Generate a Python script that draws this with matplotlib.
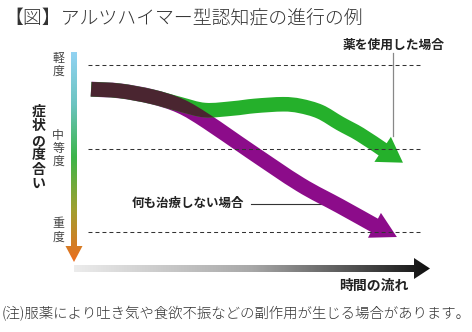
import numpy as np
import matplotlib.pyplot as plt
from matplotlib.patches import Polygon, PathPatch
from matplotlib.path import Path
from matplotlib.colors import LinearSegmentedColormap

plt.rcParams['font.family'] = ['Noto Sans CJK JP', 'DejaVu Sans']

# ---- 図のテキスト ----
title = '【図】アルツハイマー型認知症の進行の例'
y_label = '症状の度合い'
x_label = '時間の流れ'
note = '(注)服薬により吐き気や食欲不振などの副作用が生じる場合があります。'
drug_label = '薬を使用した場合'
none_label = '何も治療しない場合'

# 症状の段階 (1=軽度, 2=中等度, 3=重度)
levels = [1, 2, 3]
level_labels = ['軽度', '中等度', '重度']

# 薬を使用した場合 (時間, 症状の度合い)
drug_t = [0.48, 1.29, 2.19, 2.98, 3.68, 4.47, 5.08, 5.87, 6.35, 6.91, 7.47, 8.03, 8.67]
drug_s = [1.29, 1.31, 1.38, 1.47, 1.54, 1.52, 1.49, 1.47, 1.49, 1.56, 1.70, 1.83, 2.01]
drug_tip = (9.24, 2.17)

# 何も治療しない場合
none_t = [0.48, 1.29, 2.19, 2.98, 3.74, 4.94, 6.35, 7.47, 8.44]
none_s = [1.29, 1.31, 1.38, 1.49, 1.68, 2.03, 2.43, 2.69, 2.92]
none_tip = (9.07, 3.06)

GREEN = '#25b02b'
PURPLE = '#8c0c8a'
DARK = '#4a2530'

fig = plt.figure(figsize=(4.72, 3.32), dpi=100)

# 背景用 (ピクセル座標)
bg = fig.add_axes([0, 0, 1, 1])
bg.axis('off')

# グラフ領域 (時間 0-10, 症状 1-3)
ax = fig.add_axes([74 / 472, 100 / 332, 356 / 472, 167 / 332])
ax.set_xlim(0, 10)
ax.set_ylim(3, 1)
ax.axis('off')


def smooth_edge(p):
    # Catmull-Rom -> ベジェ制御点 (描画はmatplotlibのCURVE4)
    q = np.vstack([p[0], p, p[-1]])
    verts, codes = [], []
    for i in range(1, len(q) - 2):
        c1 = q[i] + (q[i + 1] - q[i - 1]) / 6
        c2 = q[i + 1] - (q[i + 2] - q[i]) / 6
        verts += [c1, c2, q[i + 1]]
        codes += [Path.CURVE4] * 3
    return verts, codes


def band(t, s, tip, half, head_w):
    # 中心線から太い矢印のパスを作る (表示座標で計算)
    pts = ax.transData.transform(np.column_stack([t, s]))
    d = np.gradient(pts, axis=0)
    d /= np.hypot(d[:, 0], d[:, 1])[:, None]
    n = np.column_stack([-d[:, 1], d[:, 0]])
    tip_px = ax.transData.transform(tip)
    u = tip_px - pts[-1]
    u /= np.hypot(*u)
    nh = np.array([-u[1], u[0]])
    n[-1] = nh
    left = pts + n * half
    right = (pts - n * half)[::-1]
    verts, codes = [left[0]], [Path.MOVETO]
    v, c = smooth_edge(left)
    verts += v
    codes += c
    verts += [pts[-1] + nh * head_w / 2, tip_px, pts[-1] - nh * head_w / 2, right[0]]
    codes += [Path.LINETO] * 4
    v, c = smooth_edge(right)
    verts += v
    codes += c
    verts.append(left[0])
    codes.append(Path.CLOSEPOLY)
    verts = ax.transData.inverted().transform(np.array(verts))
    return Path(verts, codes)


purple_p = band(none_t, none_s, none_tip, 7.5, 28)
green_p = band(drug_t, drug_s, drug_tip, 7.3, 30)

purple = PathPatch(purple_p, fc=PURPLE, ec='none', zorder=2, clip_on=False)
green = PathPatch(green_p, fc=GREEN, ec='none', zorder=3, clip_on=False)
ax.add_patch(purple)
ax.add_patch(green)
# 重なり部分
dark = PathPatch(purple_p, fc=DARK, ec='none', zorder=4)
ax.add_patch(dark)
dark.set_clip_box(None)
dark.set_clip_path(green)

# 段階の破線
ax.hlines(levels, 0.39, 9.78, colors='#333333', linestyles=(0, (3.8, 2.9)),
          linewidth=0.75, zorder=6, clip_on=False)

# ---- 縦軸のグラデーション矢印 ----
vcmap = LinearSegmentedColormap.from_list('v', ['#92d3f3', '#6cc4c0', '#3cb54a', '#a0a030', '#ec6c1f'])
varrow = Polygon([(71, 52), (77, 52), (77, 246), (82.5, 246), (74, 262),
                  (65.5, 246), (71, 246)], closed=True, fc='none', ec='none')
bg.add_patch(varrow)
im = bg.imshow(np.linspace(0, 1, 256)[:, None], cmap=vcmap, extent=(65, 83, 262, 52),
               aspect='auto', origin='upper')
im.set_clip_path(varrow)

# ---- 横軸のグラデーション矢印 ----
hcmap = LinearSegmentedColormap.from_list('h', ['#ececec', '#a8a8a8', '#101010'])
harrow = Polygon([(74, 265), (414, 265), (414, 258), (430, 268.5), (414, 279),
                  (414, 272), (74, 272)], closed=True, fc='none', ec='none')
bg.add_patch(harrow)
im2 = bg.imshow(np.linspace(0, 1, 256)[None, :], cmap=hcmap, extent=(74, 430, 279, 258),
                aspect='auto', origin='upper')
im2.set_clip_path(harrow)

bg.set_xlim(0, 472)
bg.set_ylim(332, 0)


def vtext(x, y0, pitch, s, **kw):
    for i, ch in enumerate(s):
        bg.text(x, y0 + i * pitch, ch, ha='center', va='center', **kw)


# 段階のラベル (縦書き)
level_pos = [(58.5, 13), (135.7, 12.8), (224, 13.5)]
for lab, (y0, p) in zip(level_labels, level_pos):
    vtext(58.3, y0, p, lab, fontsize=8.6, color='#444444')
vtext(38.5, 111.7, 14.5, y_label, fontsize=10, fontweight='bold', color='#222222')

# タイトル・注記
bg.text(4, 19, title, ha='left', va='center', fontsize=13.6, fontweight='light', color='#333333')
bg.text(2, 314, note, ha='left', va='center', fontsize=10.4, fontweight='light', color='#333333')
bg.text(409, 286, x_label, ha='right', va='center', fontsize=10, fontweight='bold', color='#222222')

# 引き出し線とラベル
bg.text(394, 45, drug_label, ha='center', va='center', fontsize=9.2, fontweight='bold', color='#222222')
bg.plot([393, 393], [53, 136], color='#888888', lw=0.9)
bg.text(132, 203, none_label, ha='left', va='center', fontsize=9, fontweight='bold', color='#222222')
bg.plot([251, 335], [204, 204], color='#333333', lw=0.8)

fig.savefig('out.png', dpi=100)
